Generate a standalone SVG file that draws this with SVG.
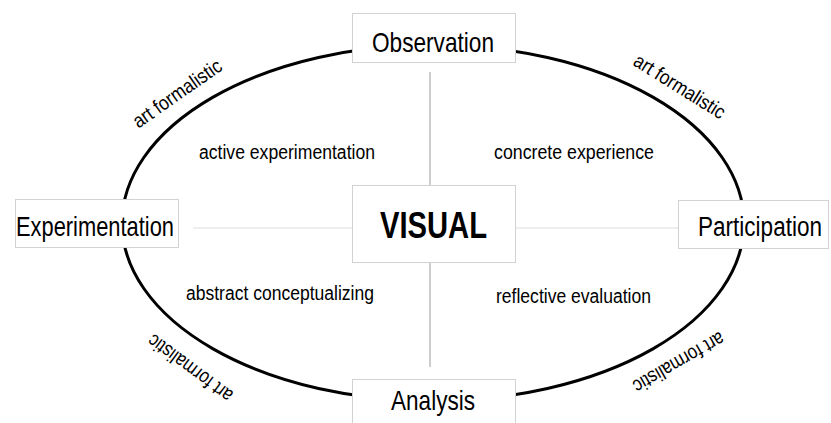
<svg xmlns="http://www.w3.org/2000/svg" width="831" height="423" viewBox="0 0 831 423">
<style>
.box{fill:#fff;stroke:#d2d2d2;stroke-width:1}
.lbl{font-family:"Liberation Sans",Arial,sans-serif;font-size:28px;fill:#000;text-anchor:middle}
.big{font-family:"Liberation Sans",Arial,sans-serif;font-size:37px;font-weight:bold;fill:#000;text-anchor:middle}
.inner{font-family:"Liberation Sans",Arial,sans-serif;font-size:20px;fill:#000;text-anchor:middle}
.arc{font-family:"Liberation Sans",Arial,sans-serif;font-size:20px;fill:#000;text-anchor:middle}
.axis{stroke:#9a9a9a;stroke-width:1}
.axis2{stroke:#dddddd;stroke-width:1}
</style>
<rect width="831" height="423" fill="#fff"/>
<ellipse cx="433" cy="223" rx="311" ry="178" fill="none" stroke="#000" stroke-width="3"/>
<g id="connectors">
<line class="axis" x1="430" y1="72" x2="430" y2="185"/>
<line class="axis" x1="430" y1="262" x2="430" y2="367"/>
<line class="axis2" x1="193" y1="228" x2="352" y2="228"/>
<line class="axis2" x1="515" y1="228" x2="678" y2="228"/>
</g>
<g id="observation">
<rect class="box" x="352.5" y="13.5" width="163" height="49"/>
<text class="lbl" x="433" y="52" textLength="122" lengthAdjust="spacingAndGlyphs">Observation</text>
</g>
<g id="experimentation">
<rect class="box" x="15.5" y="199.5" width="163" height="48"/>
<text class="lbl" x="95" y="236" textLength="158" lengthAdjust="spacingAndGlyphs">Experimentation</text>
</g>
<g id="participation">
<rect class="box" x="678.5" y="200.5" width="150" height="48"/>
<text class="lbl" transform="translate(760,236) scale(0.805,1)">Participation</text>
</g>
<g id="analysis">
<rect class="box" x="352.5" y="379.5" width="163" height="50"/>
<text class="lbl" x="433" y="410" textLength="84" lengthAdjust="spacingAndGlyphs">Analysis</text>
</g>
<g id="visual">
<rect class="box" x="352.5" y="185.5" width="163" height="77"/>
<text class="big" x="433.5" y="238" textLength="107" lengthAdjust="spacingAndGlyphs">VISUAL</text>
</g>
<g id="quadrant-labels">
<text class="inner" x="287" y="159" textLength="176" lengthAdjust="spacingAndGlyphs">active experimentation</text>
<text class="inner" x="574" y="159" textLength="160" lengthAdjust="spacingAndGlyphs">concrete experience</text>
<text class="inner" x="280" y="300" textLength="188" lengthAdjust="spacingAndGlyphs">abstract conceptualizing</text>
<text class="inner" x="573.5" y="303" textLength="155" lengthAdjust="spacingAndGlyphs">reflective evaluation</text>
</g>
<g id="arc-labels">
<text class="arc" transform="translate(181,99) rotate(-35)" textLength="104" lengthAdjust="spacingAndGlyphs">art formalistic</text>
<text class="arc" transform="translate(676,92) rotate(32)" textLength="104" lengthAdjust="spacingAndGlyphs">art formalistic</text>
<text class="arc" transform="translate(194,363) rotate(216.6)" textLength="100" lengthAdjust="spacingAndGlyphs">art formalistic</text>
<text class="arc" transform="translate(675.5,356.7) rotate(150)" textLength="102" lengthAdjust="spacingAndGlyphs">art formalistic</text>
</g>
</svg>
